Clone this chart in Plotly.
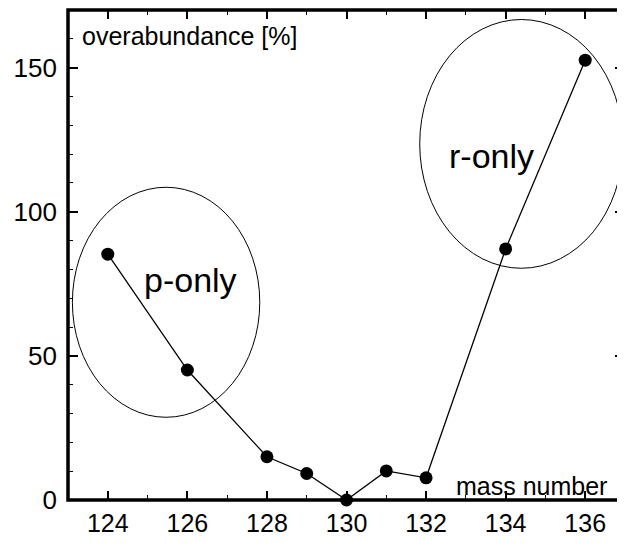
import plotly.graph_objects as go

mass_number = [124, 126, 128, 129, 130, 131, 132, 134, 136]
overabundance = [85.3, 45.1, 15.0, 9.2, 0.0, 10.1, 7.7, 87.1, 152.6]

x_tick_vals = [124, 126, 128, 130, 132, 134, 136]
y_tick_vals = [0, 50, 100, 150]

# ellipse bounds (data units): x0, x1, y0, y1
p_only_ellipse = [123.11, 127.82, 28.7, 108.5]
r_only_ellipse = [131.84, 136.95, 80.4, 166.7]

FONT = "Liberation Sans, Arial, Helvetica, sans-serif"

fig = go.Figure()
fig.add_trace(go.Scatter(
    x=mass_number, y=overabundance, mode="lines+markers",
    line=dict(color="black", width=1.3),
    marker=dict(color="black", size=13),
    showlegend=False, cliponaxis=False,
))

for (x0, x1, y0, y1) in [p_only_ellipse, r_only_ellipse]:
    fig.add_shape(type="circle", xref="x", yref="y", x0=x0, x1=x1, y0=y0, y1=y1,
                  line=dict(color="black", width=1))

# thick frame on left, bottom and top
fig.add_shape(type="path", xref="paper", yref="paper", path="M 1.02,1 L 0,1 L 0,0 L 1.02,0",
              line=dict(color="black", width=3.5), layer="above")

fig.add_annotation(x=123.3, y=161, text="overabundance [%]", showarrow=False,
                   xanchor="left", yanchor="middle", font=dict(family=FONT, size=25, color="black"))
fig.add_annotation(x=136.6, y=5.0, text="mass number", showarrow=False,
                   xanchor="right", yanchor="middle", font=dict(family=FONT, size=25, color="black"))
fig.add_annotation(x=126.07, y=76.5, text="p-only", showarrow=False,
                   xanchor="center", yanchor="middle", font=dict(family=FONT, size=34, color="black"))
fig.add_annotation(x=133.65, y=119.5, text="r-only", showarrow=False,
                   xanchor="center", yanchor="middle", font=dict(family=FONT, size=34, color="black"))

# the page body adds an 8px offset, so the figure is sized to fill the rest of the window
fig.update_layout(
    width=617, height=537,
    margin=dict(l=60, r=0, t=2, b=45, autoexpand=False),
    paper_bgcolor="white", plot_bgcolor="white",
    font=dict(family=FONT, color="black"),
)
fig.update_xaxes(
    range=[123, 137], tickvals=x_tick_vals, ticks="inside", ticklen=9, tickwidth=1.5,
    tickcolor="black", showline=False, mirror="allticks",
    showgrid=False, zeroline=False, tickfont=dict(size=25, color="black"), automargin=False,
    ticklabelstandoff=6,
    minor=dict(dtick=1, tick0=123, ticks="inside", ticklen=5, tickwidth=1.2, tickcolor="black", showgrid=False),
)
fig.update_yaxes(
    range=[0, 170], tickvals=y_tick_vals, ticks="inside", ticklen=10, tickwidth=1.5,
    tickcolor="black", showline=False, mirror="allticks",
    showgrid=False, zeroline=False, tickfont=dict(size=26, color="black"), ticklabelstandoff=10,
    automargin=False,
    minor=dict(dtick=10, tick0=0, ticks="inside", ticklen=5, tickwidth=1.2, tickcolor="black", showgrid=False),
)

fig.write_html("out.html")
